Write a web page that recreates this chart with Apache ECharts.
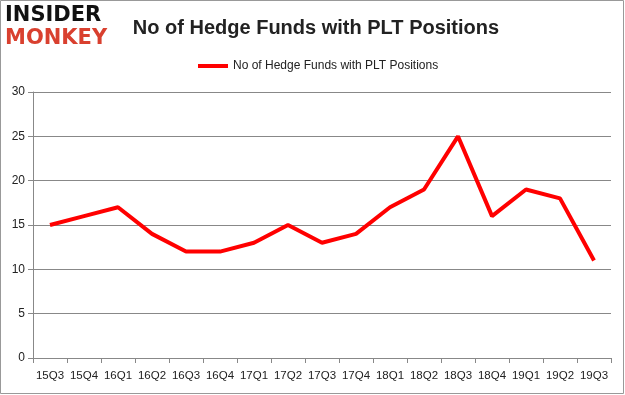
<!DOCTYPE html>
<html><head><meta charset="utf-8">
<script src="https://cdn.jsdelivr.net/npm/echarts@6/dist/echarts.min.js"></script>
<style>html,body{margin:0;padding:0;background:#fff}#c{width:625px;height:395px}</style>
</head><body><div id="c"></div>
<script>
var categories = ['15Q3','15Q4','16Q1','16Q2','16Q3','16Q4','17Q1','17Q2','17Q3','17Q4','18Q1','18Q2','18Q3','18Q4','19Q1','19Q2','19Q3'];
var values = [15,16,17,14,12,12,13,15,13,14,17,19,25,16,19,18,11];
var seriesName = 'No of Hedge Funds with PLT Positions';
var chart = echarts.init(document.getElementById('c'), null, {renderer:'canvas'});
chart.setOption({
  animation:false,
  title:{text:'No of Hedge Funds with PLT Positions', left:311, textAlign:'center', top:13,
    textStyle:{fontFamily:'Liberation Sans, Arial', fontWeight:'bold', fontSize:20, color:'#222'}},
  legend:{top:55, left:193, itemWidth:30, itemHeight:4, itemGap:5, icon:'rect',
    textStyle:{fontFamily:'Liberation Sans', fontSize:12, color:'#222'},
    data:[seriesName]},
  graphic:[
    {type:'rect', shape:{x:0.5,y:0.5,width:623,height:393}, style:{fill:'none', stroke:'#999', lineWidth:1}},
    {type:'text', left:5, top:5, style:{text:'INSIDER', font:'bold 21px "DejaVu Sans"', fill:'#111'}},
    {type:'text', left:5, top:28, style:{text:'MONKEY', font:'bold 21px "DejaVu Sans"', fill:'#d9402f'}}
  ],
  grid:{left:33, right:14, top:92, bottom:37},
  xAxis:{type:'category', data:categories, boundaryGap:true,
    axisLine:{lineStyle:{color:'#888'}}, axisTick:{show:true, length:5, interval:0, lineStyle:{color:'#888'}},
    axisLabel:{interval:0, fontFamily:'Liberation Sans', fontSize:11.5, color:'#222', margin:12}},
  yAxis:{type:'value', min:0, max:30, interval:5,
    axisLine:{show:true, lineStyle:{color:'#888'}}, axisTick:{show:true, length:5, lineStyle:{color:'#888'}},
    splitLine:{lineStyle:{color:'#888'}},
    axisLabel:{fontFamily:'Liberation Sans', fontSize:12, color:'#222', margin:8}},
  series:[{name:seriesName, type:'line', data:values, symbol:'none',
    lineStyle:{color:'#ff0000', width:4}, itemStyle:{color:'#ff0000'}}]
});
</script></body></html>
